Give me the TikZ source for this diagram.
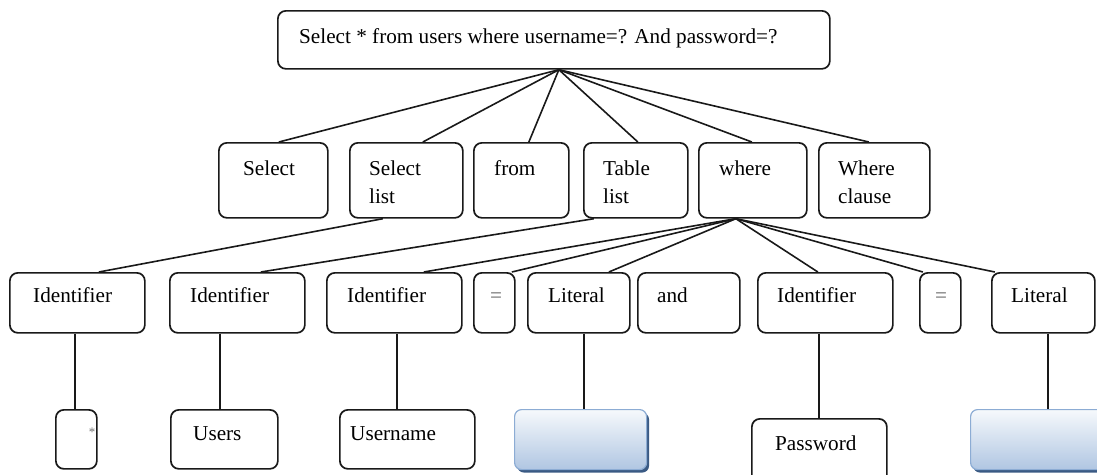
\documentclass[tikz,border=0pt]{standalone}
\usepackage{fontspec}
\setmainfont{Liberation Serif}
\usetikzlibrary{shadows}
\newcommand\fs{\fontsize{21.2}{25}\selectfont}
\definecolor{lineclr}{RGB}{25,25,25}
\definecolor{blueedge}{RGB}{140,172,212}
\definecolor{bluetop}{RGB}{246,249,252}
\definecolor{bluebot}{RGB}{176,198,226}
\definecolor{blueshadow}{RGB}{58,90,132}
\tikzset{
  box/.style={draw=lineclr, line width=1.7pt, rounded corners=8pt, inner sep=0pt, anchor=north west},
  bluebox/.style={draw=blueedge, line width=1.2pt, rounded corners=7pt, inner sep=0pt, anchor=north west,
     top color=bluetop, bottom color=bluebot,
     general shadow={fill=blueshadow, shadow xshift=2.5pt, shadow yshift=-3pt}},
  txt/.style={inner sep=0pt, anchor=base west, font=\fs, text=black},
  eqtxt/.style={inner sep=0pt, anchor=base, font=\fs, text=black!60},
  conn/.style={line width=1.6pt, draw=lineclr},
}
\newcommand\bx[6][box]{\node[#1, minimum width=#5pt-#3pt, minimum height=#6pt-#4pt] (#2) at (#3,#4) {};}
\begin{document}
\begin{tikzpicture}[x=1pt,y=-1pt]
\useasboundingbox (0,0) rectangle (1097,474);
\clip (0,0) rectangle (1097,474);
% top
\bx{top}{277}{10}{829}{68}
\node[txt] (toptxt) at (299,43) {Select * from users where username=? And password=?};
% level 2
\bx{sel}{218}{142}{327}{217}
\bx{sell}{349}{142}{462}{217}
\bx{from}{473}{142}{568}{217}
\bx{tabl}{583}{142}{687}{217}
\bx{where}{698}{142}{806}{217}
\bx{wcl}{818}{142}{929}{217}
\node[txt] (selt) at (243,175) {Select};
\node[txt] (sellt1) at (369,175) {Select};
\node[txt] (sellt2) at (369,203) {list};
\node[txt] (fromt) at (494,175) {from};
\node[txt] (tablt1) at (603,175) {Table};
\node[txt] (tablt2) at (603,203) {list};
\node[txt] (wheret) at (719,175) {where};
\node[txt] (wclt1) at (838,175) {Where};
\node[txt] (wclt2) at (838,203) {clause};
% level 3
\bx{id1}{9}{272}{144}{332}
\bx{id2}{169}{272}{304}{332}
\bx{id3}{326}{272}{461}{332}
\bx{eq1}{473}{272}{514}{332}
\bx{lit1}{527}{272}{629}{332}
\bx{and}{637}{272}{739}{332}
\bx{id4}{757}{272}{892}{332}
\bx{eq2}{919}{272}{960}{332}
\bx{lit2}{991}{272}{1094}{332}
\node[txt] (id1t) at (33,302) {Identifier};
\node[txt] (id2t) at (190,302) {Identifier};
\node[txt] (id3t) at (347,302) {Identifier};
\node[eqtxt] (eq1t) at (496,302) {=};
\node[txt] (lit1t) at (548,302) {Literal};
\node[txt] (andt) at (657,302) {and};
\node[txt] (id4t) at (777,302) {Identifier};
\node[eqtxt] (eq2t) at (941,302) {=};
\node[txt] (lit2t) at (1011,302) {Literal};
% level 4
\bx{star}{55}{409}{96}{468}
\bx{users}{170}{409}{277}{468}
\bx{uname}{339}{409}{474}{468}
\bx{pwd}{751}{418}{886}{484}
\bx[bluebox]{val1}{514}{409}{646}{469}
\bx[bluebox]{val2}{970}{409}{1110}{469}
\node[inner sep=0pt, font=\fontsize{13}{13}\selectfont, text=black!55] (start) at (92,432) {*};
\node[txt] (userst) at (193,440) {Users};
\node[txt] (unamet) at (350,440) {Username};
\node[txt] (pwdt) at (775,450) {Password};
% connectors top -> level 2
\coordinate (tp) at ([xshift=5pt]top.south);
\draw[conn] (tp) -- ([xshift=5.5pt]sel.north);
\draw[conn] (tp) -- ([xshift=16.5pt]sell.north);
\draw[conn] (tp) -- ([xshift=7.5pt]from.north);
\draw[conn] (tp) -- ([xshift=2pt]tabl.north);
\draw[conn] (tp) -- ([xshift=-1pt]where.north);
\draw[conn] (tp) -- ([xshift=-5.5pt]wcl.north);
% level 2 -> level 3
\draw[conn] ([xshift=-23.5pt]sell.south) -- ([xshift=21.5pt]id1.north);
\draw[conn] ([xshift=-42pt]tabl.south) -- ([xshift=23.5pt]id2.north);
\coordinate (wp) at ([xshift=-17pt]where.south);
\draw[conn] (wp) -- ([xshift=29.5pt]id3.north);
\draw[conn] (wp) -- ([xshift=17.5pt]eq1.north);
\draw[conn] (wp) -- ([xshift=30pt]lit1.north);
\draw[conn] (wp) -- ([xshift=-7.5pt]id4.north);
\draw[conn] (wp) -- ([xshift=-17.5pt]eq2.north);
\draw[conn] (wp) -- ([xshift=-48.5pt]lit2.north);
% level 3 -> level 4
\draw[conn] ([xshift=-2.5pt]id1.south) -- ([xshift=-2.5pt]id1.south |- star.north);
\draw[conn] ([xshift=-17.5pt]id2.south) -- ([xshift=-17.5pt]id2.south |- users.north);
\draw[conn] ([xshift=2.5pt]id3.south) -- ([xshift=2.5pt]id3.south |- uname.north);
\draw[conn] ([xshift=5pt]lit1.south) -- ([xshift=5pt]lit1.south |- val1.north);
\draw[conn] ([xshift=-6.5pt]id4.south) -- ([xshift=-6.5pt]id4.south |- pwd.north);
\draw[conn] ([xshift=4.5pt]lit2.south) -- ([xshift=4.5pt]lit2.south |- val2.north);
\end{tikzpicture}
\end{document}
